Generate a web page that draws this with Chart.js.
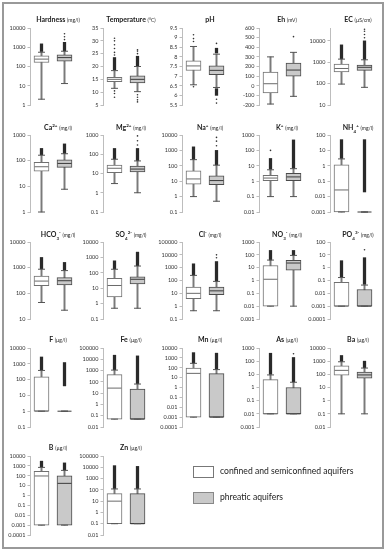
<!DOCTYPE html>
<html>
<head>
<meta charset="utf-8">
<script src="https://cdn.jsdelivr.net/npm/chart.js@4.4.1/dist/chart.umd.min.js"></script>
<style>
  html,body{margin:0;padding:0;background:#fff;}
  #wrap{position:relative;width:385px;height:550px;overflow:hidden;font-family:Lato,"Open Sans",sans-serif;}
  #frame{position:absolute;left:2px;top:2px;width:378px;height:543px;border:2px solid #999;}
  canvas{position:absolute;}
  .ttl{position:absolute;width:90px;text-align:center;font-size:7px;font-weight:bold;color:#222;line-height:10px;white-space:nowrap;}
  .ttl small{font-size:5px;font-weight:normal;}
  .ttl sup,.ttl sub{font-size:4.5px;}
  .lg{position:absolute;font-size:8.6px;color:#222;white-space:nowrap;line-height:12px;}
  .sw{position:absolute;width:19px;height:10px;}
</style>
</head>
<body>
<div id="wrap">
  <div id="frame"></div>
</div>
<script>
// ---- titles ----
const titleNames = ['Hardness','Temperature','pH','Eh','EC',
  'Ca<sup>2+</sup>','Mg<sup>2+</sup>','Na<sup>+</sup>','K<sup>+</sup>','NH<sub>4</sub><sup>+</sup>',
  'HCO<sub>3</sub><sup>-</sup>','SO<sub>4</sub><sup>2-</sup>','Cl<sup>-</sup>','NO<sub>3</sub><sup>-</sup>','PO<sub>4</sub><sup>3-</sup>',
  'F','Fe','Mn','As','Ba','B','Zn'];
const titleUnits = ['(mg/l)','(°C)','','(mV)','(µS/cm)',
  '(mg/l)','(mg/l)','(mg/l)','(mg/l)','(mg/l)',
  '(mg/l)','(mg/l)','(mg/l)','(mg/l)','(mg/l)',
  '(µg/l)','(µg/l)','(µg/l)','(µg/l)','(µg/l)','(µg/l)','(µg/l)'];
const seriesNames = ['confined and semiconfined aquifers','phreatic aquifers'];
const categories = ['confined','phreatic'];

// ---- axes ----
const isLog = [true,false,false,false,true, true,true,true,true,true, true,true,true,true,true, true,true,true,true,true, true,true];
const yMin = [1,5,5.5,-200,10, 1,0.1,0.1,0.01,0.001, 10,0.1,0.1,0.001,0.0001, 0.1,0.01,0.0001,0.001,0.01, 0.0001,0.01];
const yMax = [10000,35,9.5,600,40000, 1000,1000,10000,1000,100, 10000,10000,100000,1000,100, 10000,100000,10000,1000,10000, 10000,100000];
const yTicks = [
  [1,10,100,1000,10000],[5,10,15,20,25,30,35],[5.5,6,6.5,7,7.5,8,8.5,9,9.5],[-200,-100,0,100,200,300,400,500,600],[10,100,1000,10000],
  [1,10,100,1000],[0.1,1,10,100,1000],[0.1,1,10,100,1000,10000],[0.01,0.1,1,10,100,1000],[0.001,0.01,0.1,1,10,100],
  [10,100,1000,10000],[0.1,1,10,100,1000,10000],[0.1,1,10,100,1000,10000,100000],[0.001,0.01,0.1,1,10,100,1000],[0.0001,0.001,0.01,0.1,1,10,100],
  [0.1,1,10,100,1000,10000],[0.01,0.1,1,10,100,1000,10000,100000],[0.0001,0.001,0.01,0.1,1,10,100,1000,10000],[0.001,0.01,0.1,1,10,100,1000],[0.01,0.1,1,10,100,1000,10000],
  [0.0001,0.001,0.01,0.1,1,10,100,1000,10000],[0.01,0.1,1,10,100,1000,10000,100000]
];

// ---- confined & semiconfined aquifers ----
const minC = [2,11.5,6.55,-190,95, 1,3,1,0.1,0.001, 44,0.5,0.44,0.01,0.001, 1,0.05,0.001,0.01,0.1, 0.001,0.1];
const q1C  = [161,14.1,7.29,-74,350, 39,11.2,6.3,1.07,0.001, 200,2.75,3.9,0.01,0.001, 1,0.05,0.001,0.01,85, 0.001,0.1];
const medC = [242,15,7.53,21,510, 58,18.7,14,1.6,0.027, 300,15,10,1.25,0.001, 1,28,27,0.01,200, 95,10];
const q3C  = [356,15.8,7.79,141,820, 87,27,48,2.45,1.17, 475,44,31,14.7,0.072, 150,435,93,4,440, 280,46];
const maxC = [550,18.4,8.54,300,1400, 163,55,250,5.5,2.8, 870,170,250,39,0.17, 380,1100,280,9,900, 700,120];
const denseC = [
  [[600,1500]],[[18.7,23.5]],[],[],[[1450,6500]],
  [[170,300]],[[57,200]],[[260,1700]],[[6,30]],[[3,50]],
  [[900,2500]],[[180,600]],[[260,2000]],[[40,220]],[[0.18,3.5]],
  [[400,2700]],[[1200,23000]],[[300,3400]],[[10,400]],[[950,2700]],
  [[750,3000]],[[130,14000]]
];
const sparseC = [
  [],[8,9.5,10.5,24.5,25.5,27,28.5,30,31],[6.45,8.8,8.95,9.15],[],[],
  [],[],[],[100],[],
  [],[],[],[],[],
  [],[],[],[],[],
  [],[]
];

// ---- phreatic aquifers ----
const minP = [13,10.2,6.41,-110,67, 7.7,1,0.5,0.1,0.001, 22,0.5,0.44,0.01,0.001, 1,0.05,0.001,0.01,0.1, 0.001,0.1];
const q1P  = [187,13.6,7.07,100,415, 55,12,6,1.1,0.001, 215,19,8,6.4,0.001, 1,0.05,0.001,0.01,52, 0.001,0.1];
const medP = [290,15,7.3,163,580, 78,17,11,1.9,0.001, 310,38,15.6,23,0.001, 1,0.05,0.001,0.01,90, 17,0.1];
const q3P  = [398,16.4,7.53,236,740, 107,24.5,22,3.2,0.001, 410,55,31,37,0.02, 1,23,25,1,147, 100,46];
const maxP = [620,20,8.14,347,1300, 186,45,110,6.5,0.001, 770,275,85,90,0.044, 1,64,65,2.5,300, 350,120];
const denseP = [
  [[650,1800]],[[20.3,24]],[[8.2,8.45],[6.0,6.35]],[],[[1350,10000]],
  [[190,450]],[[47,200]],[[115,1000]],[[7,480]],[[0.02,50]],
  [[800,1600]],[[290,2200]],[[90,3000]],[[95,220]],[[0.05,6]],
  [[40,1200]],[[70,20000]],[[70,3000]],[[2.7,190]],[[320,1000]],
  [[370,2000]],[[130,12000]]
];
const sparseP = [
  [2500,3500,5000],[6.2,7,8,9,25,26,26.5],[5.6,5.8,8.7],[510],[14000,20000,28000,35000],
  [],[300,500,900],[2000,4000,7000],[],[],
  [],[],[6000,10000],[],[25],
  [],[],[],[370],[],
  [],[]
];

// ---- layout ----
const colX = [30,103,182,259,330];
const rowTop = [25,132,239,345,453];
const rowBot = [108,215,322,430,538];
const AXW = 28, PW = 50, PAD = 5;

const wrap = document.getElementById('wrap');

function fmt(v){ return String(v); }

for (let i = 0; i < titleNames.length; i++) {
  const col = i % 5, row = Math.floor(i / 5);
  const ax = colX[col], top = rowTop[row], bot = rowBot[row];

  const t = document.createElement('div');
  t.className = 'ttl';
  t.style.left = (ax + 28 - 45) + 'px';
  t.style.top = (top - 11) + 'px';
  t.innerHTML = titleNames[i] + (titleUnits[i] ? ' <small>' + titleUnits[i] + '</small>' : '');

  const cv = document.createElement('canvas');
  const W = AXW + PW + 4, H = (bot - top) + 2 * PAD;
  cv.width = W; cv.height = H;
  cv.style.left = (ax - AXW) + 'px';
  cv.style.top = (top - PAD) + 'px';
  cv.style.width = W + 'px'; cv.style.height = H + 'px';
  wrap.appendChild(cv);
  wrap.appendChild(t);

  const dense = [];
  denseC[i].forEach(r => dense.push({x: categories[0], y: r}));
  denseP[i].forEach(r => dense.push({x: categories[1], y: r}));
  const sparse = [];
  sparseC[i].forEach(v => sparse.push({x: categories[0], y: v}));
  sparseP[i].forEach(v => sparse.push({x: categories[1], y: v}));

  const ticks = yTicks[i];
  new Chart(cv, {
    type: 'bar',
    data: {
      labels: categories,
      datasets: [
        { type: 'bar', data: [[minC[i], maxC[i]], [minP[i], maxP[i]]], backgroundColor: '#7a7a7a',
          borderWidth: 0, barThickness: 1.3, grouped: false, order: 6, clip: false },
        { type: 'bar', data: dense, backgroundColor: '#2a2a2a', borderWidth: 0, barThickness: 2.6,
          grouped: false, order: 5, clip: false },
        { type: 'bar', data: [[q1C[i], q3C[i]], [q1P[i], q3P[i]]], backgroundColor: ['#ffffff', '#c9c9c9'],
          borderColor: ['#707070', '#4a4a4a'], borderWidth: 1, borderSkipped: false, barThickness: 15,
          grouped: false, order: 4, clip: false },
        { type: 'line', data: [{x: categories[0], y: medC[i]}, {x: categories[1], y: medP[i]}], showLine: false,
          pointStyle: 'line', pointRadius: 7, pointBorderWidth: 1, pointBorderColor: ['#6a6a6a', '#3a3a3a'],
          order: 3, clip: false },
        { type: 'line', data: [{x: categories[0], y: minC[i]}, {x: categories[0], y: maxC[i]},
                               {x: categories[1], y: minP[i]}, {x: categories[1], y: maxP[i]}], showLine: false,
          pointStyle: 'line', pointRadius: 3.5, pointBorderWidth: 1, pointBorderColor: '#555',
          order: 2, clip: false },
        { type: 'line', data: sparse, showLine: false, pointStyle: 'circle', pointRadius: 0.8,
          pointBorderWidth: 0, pointBackgroundColor: '#333', order: 1, clip: false }
      ]
    },
    options: {
      responsive: false, animation: false, events: [],
      layout: { padding: { top: PAD, bottom: PAD, left: 0, right: 4 } },
      plugins: { legend: { display: false }, tooltip: { enabled: false }, title: { display: false } },
      scales: {
        x: { type: 'category', display: false, offset: true },
        y: {
          type: isLog[i] ? 'logarithmic' : 'linear',
          min: yMin[i], max: yMax[i],
          afterBuildTicks: s => { s.ticks = ticks.map(v => ({ value: v })); },
          afterFit: s => { s.width = AXW; },
          border: { display: true, color: '#bdbdbd', width: 1 },
          grid: { display: true, drawOnChartArea: false, drawTicks: true, tickLength: 2.5, color: '#bdbdbd' },
          ticks: { autoSkip: false, padding: 2, color: '#333', font: { size: 5.5, family: 'Lato' },
                   callback: v => fmt(v) }
        }
      }
    }
  });
}

// ---- legend ----
const lgTop = [466, 492];
const lgFill = ['#ffffff', '#c9c9c9'];
const lgBorder = ['#777', '#888'];
seriesNames.forEach((n, k) => {
  const sw = document.createElement('div');
  sw.className = 'sw';
  sw.style.left = '193px'; sw.style.top = lgTop[k] + 'px';
  sw.style.background = lgFill[k]; sw.style.border = '1px solid ' + lgBorder[k];
  wrap.appendChild(sw);
  const tx = document.createElement('div');
  tx.className = 'lg';
  tx.style.left = '220px'; tx.style.top = (lgTop[k] - 1) + 'px';
  tx.textContent = n;
  wrap.appendChild(tx);
});
</script>
</body>
</html>
